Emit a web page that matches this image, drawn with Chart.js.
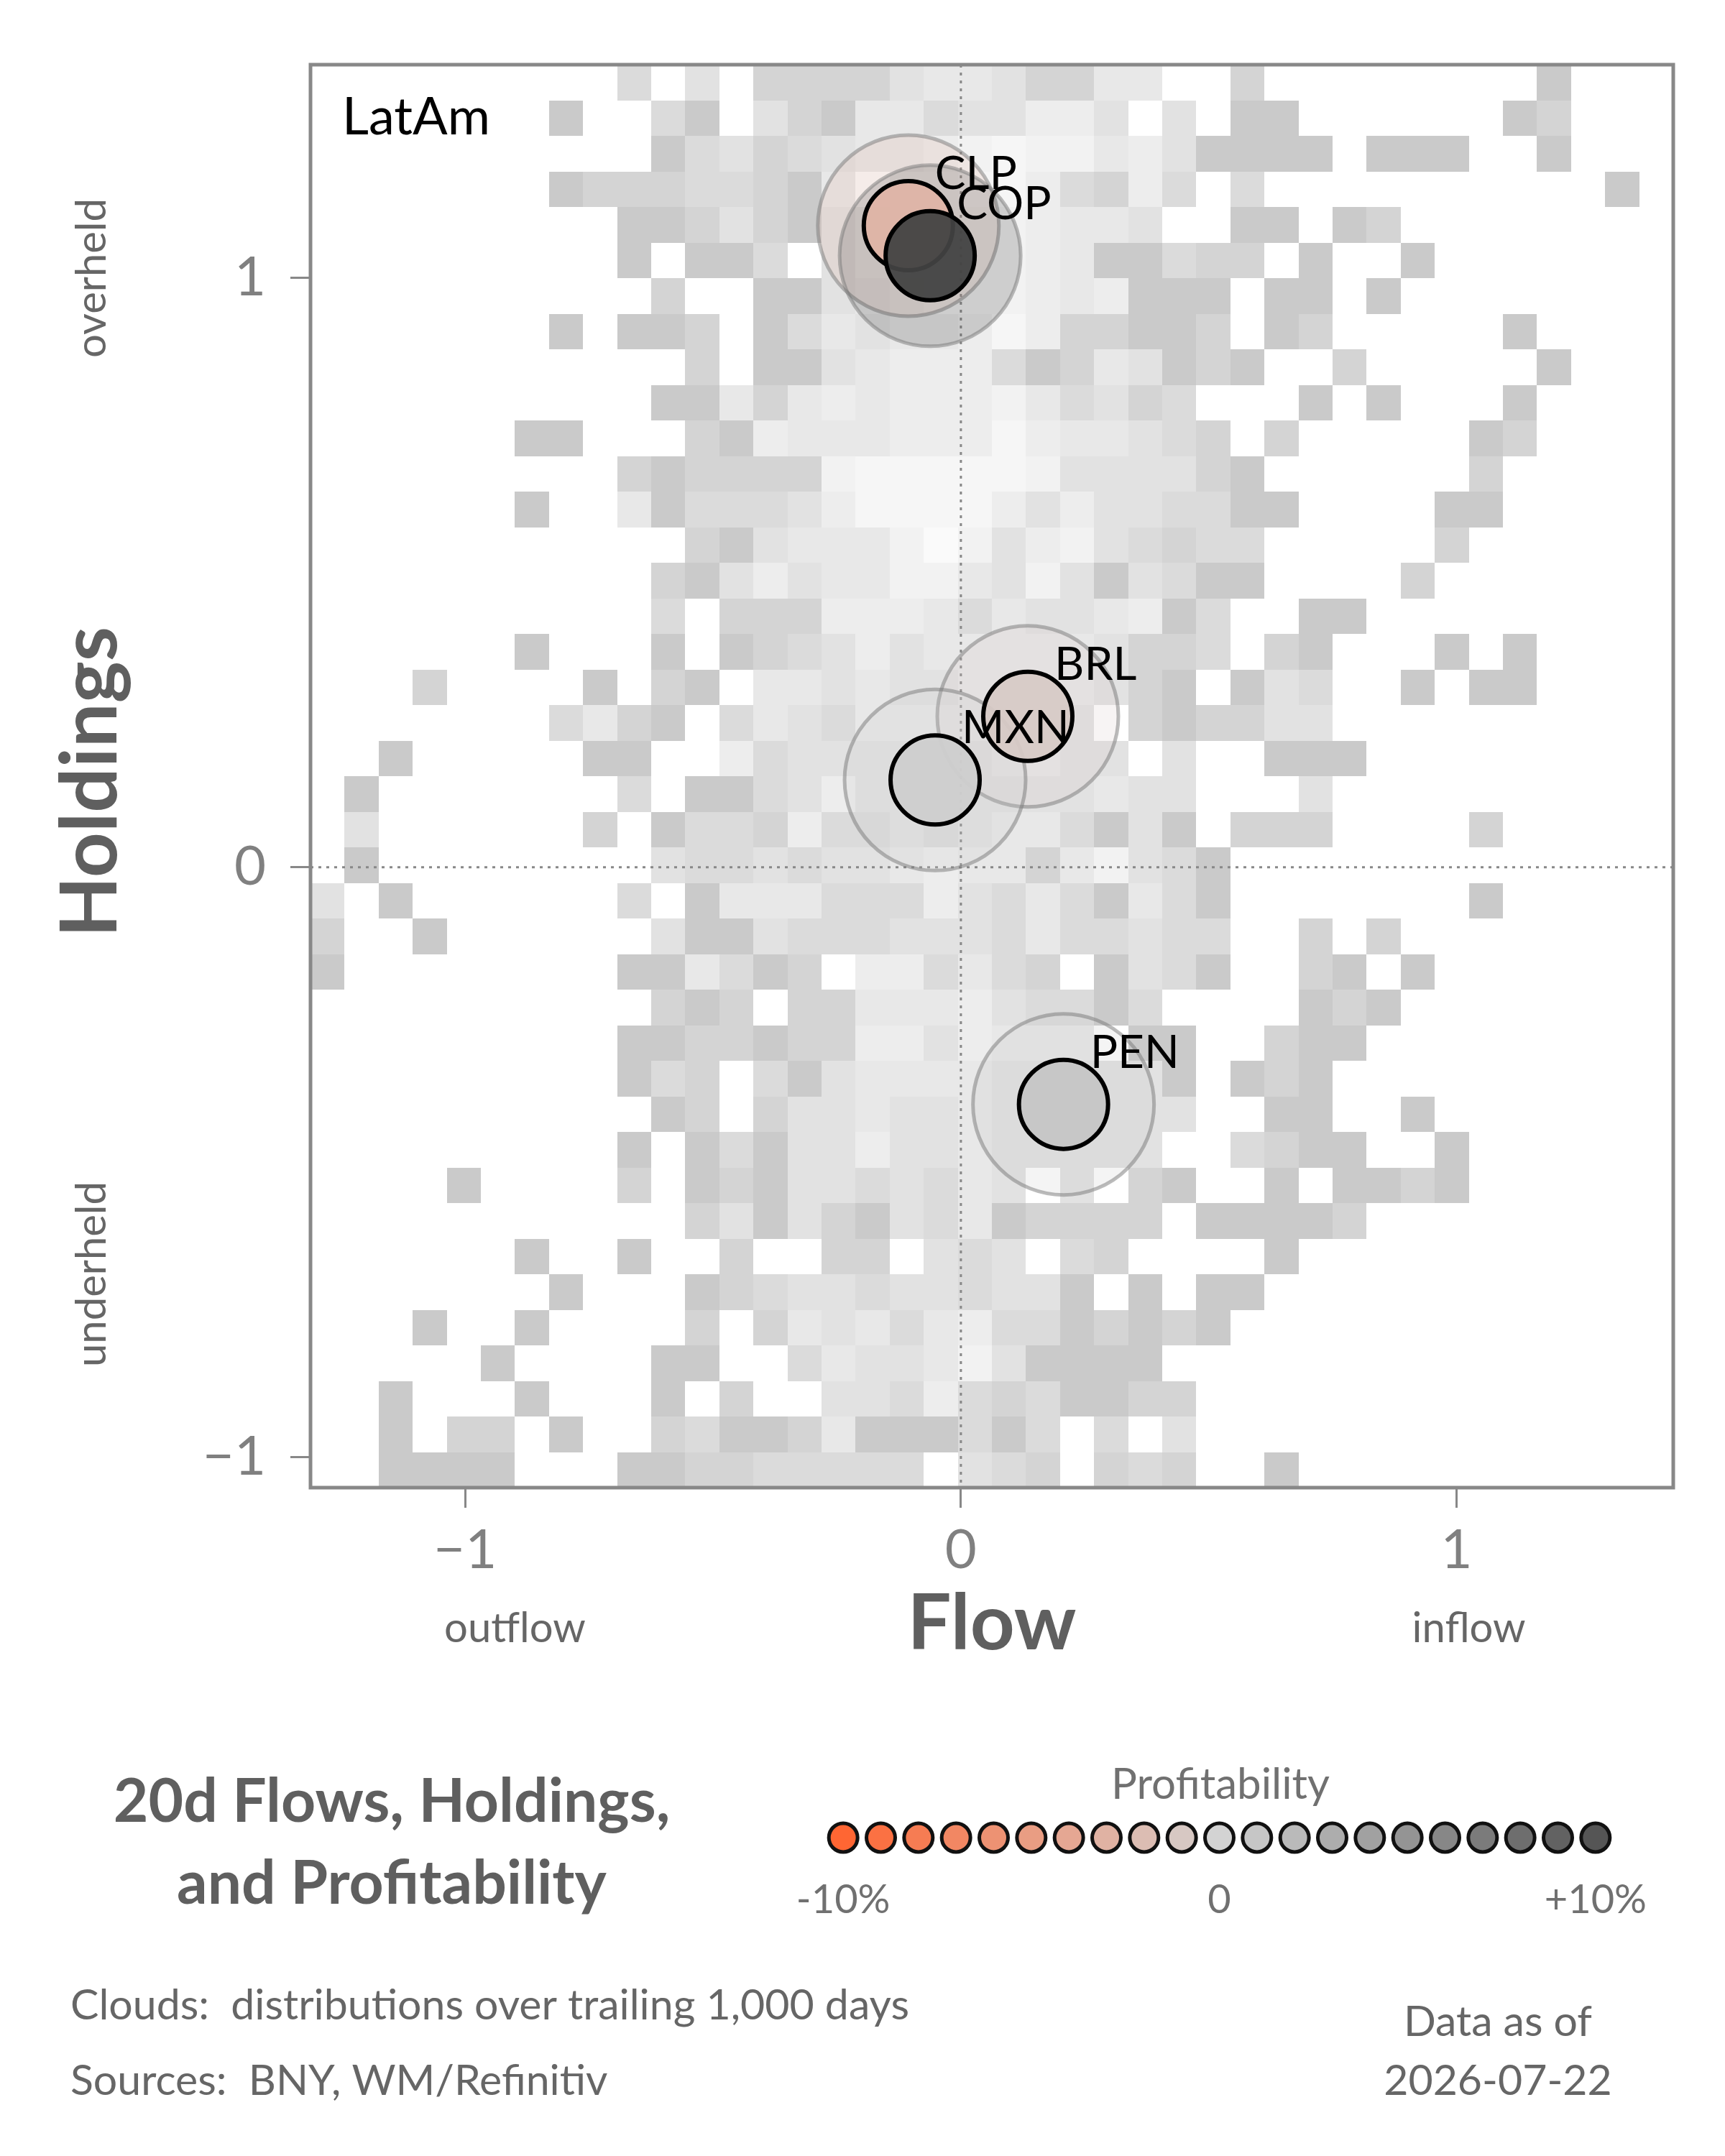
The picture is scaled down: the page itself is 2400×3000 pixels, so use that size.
<!DOCTYPE html>
<html>
<head>
<meta charset="utf-8">
<title>LatAm flows, holdings and profitability</title>
<script src="https://cdn.jsdelivr.net/npm/chart.js@4.4.1/dist/chart.umd.min.js"></script>
<style>
  body { margin: 0; background: #fff; }
  #wrap { position: relative; width: 2400px; height: 3000px; }
  canvas { position: absolute; }
</style>
</head>
<body>
<div id="wrap">
  <canvas id="cloudChart" width="2400" height="3000" style="left:0;top:0"></canvas>
  <canvas id="legendChart" width="1200" height="170" style="left:1100px;top:2522px"></canvas>
</div>
<script>
// LatAm currencies: 20d flow vs holdings, coloured by profitability
const currencies = ['CLP', 'COP', 'BRL', 'MXN', 'PEN'];
const flow = [-0.106, -0.062, 0.135, -0.052, 0.207];
const holdings = [1.088, 1.037, 0.256, 0.148, -0.402];
const profitability = [-2.8, 11.5, -0.8, 0.4, 1.0]; // percent

const flowTicks = [-1, 0, 1];
const holdingTicks = [-1, 0, 1];

// legend scale for profitability, percent
const legendSteps = [-10, -9, -8, -7, -6, -5, -4, -3, -2, -1, 0, 1, 2, 3, 4, 5, 6, 7, 8, 9, 10];
const legendTicks = [-10, 0, 10];

// trailing 1,000 day cloud: 40 x 40 bins, top row = highest holdings
// '.' = empty, 1 = few days ... 9 = most days
const cloudFlowRange = [-1.312, 1.437];
const cloudHoldRange = [-1.052, 1.361];
const cloudRows = [
  '.........3.4.222245542255..2........1...',
  '.......1..31.42155344664.4.11......12...',
  '..........13423455678775641111.111..1...',
  '.......1222332159778863263.3..........1.',
  '.........1124214677776554..11.12........',
  '.........1.113.4677776511322.1..1.......',
  '..........2..11456777656111.11.1........',
  '.......1.112.13545568622112.12.....1....',
  '...........2.114566631254121..2.....1...',
  '..........1152565666753423...1.1...1....',
  '......11...2165556668655432.2.....12....',
  '.........2122227888887444421......2.....',
  '......1..51333468888646443311....11.....',
  '...........21455579746743233.....2......',
  '..........214645577547414311....2.......',
  '..........3.222666535445613..11.........',
  '......1...1.123464555554223.21...1.1....',
  '...2....1.21.5545445555421.143..1.11....',
  '.......3521.35435555554.212244..........',
  '..1.....11..634444445544.4..111.........',
  '.1.......3.113464444444544...4..........',
  '.4......2.1332633434553141.222....2.....',
  '.1........43343445655257431.............',
  '4.1......3.1555333643531531.......1.....',
  '2..1......41143334443533433..2.2........',
  '1........115312.663532.1431..21.1.......',
  '..........212.22555643313....121........',
  '.........11221226646555.11..211.........',
  '.........132.3145555444441.121..........',
  '..........12.2445445444444..11..1.......',
  '.........1.13144644544444..3211..1......',
  '....1....2.1214434354.4.21..1.1121......',
  '...........24142143512222.11112.........',
  '......1..1..2..22.434.32....1...........',
  '.......1...123443443441.1.11............',
  '...1..1....2.25453563312121.............',
  '.....1....11..35445741111...............',
  '..1...1...1.2..44363231122..............',
  '..1.22.1..231125111313.3.4..............',
  '..1111...112233333.432.232..1...........'
];

const cloudShades = [202, 212, 219, 226, 232, 237, 242, 246, 250];

// diverging scale: orange (losses) -> light grey (flat) -> dark grey (gains)
function profitRGB(p) {
  const t = p / 10;
  const mid = [211, 211, 211];
  const end = t < 0 ? [255, 102, 51] : [85, 85, 85];
  const a = Math.abs(t);
  return mid.map((m, k) => Math.max(0, Math.min(255, Math.round(m + (end[k] - m) * a))));
}
function profitColour(p, alpha) {
  const c = profitRGB(p);
  return alpha === undefined ? `rgb(${c.join(',')})` : `rgba(${c.join(',')},${alpha})`;
}
function fmtAxis(v) {
  return v < 0 ? '\u2212' + Math.abs(v) : String(v);
}
// keep the plot box where it is: no extra room for edge labels
function noEdgePadding(s) {
  s.paddingTop = 0; s.paddingBottom = 0; s.paddingLeft = 0; s.paddingRight = 0;
}

const points = currencies.map((c, i) => ({ x: flow[i], y: holdings[i] }));

// heat cloud + dotted zero lines, under the bubbles
const cloudPlugin = {
  id: 'cloud',
  beforeDatasetsDraw(chart) {
    const { ctx, chartArea: a, scales: { x, y } } = chart;
    const nx = cloudRows[0].length, ny = cloudRows.length;
    const dx = (cloudFlowRange[1] - cloudFlowRange[0]) / nx;
    const dy = (cloudHoldRange[1] - cloudHoldRange[0]) / ny;
    ctx.save();
    ctx.beginPath();
    ctx.rect(a.left, a.top, a.width, a.height);
    ctx.clip();
    cloudRows.forEach((row, r) => {
      const yTop = Math.round(y.getPixelForValue(cloudHoldRange[1] - r * dy));
      const yBot = Math.round(y.getPixelForValue(cloudHoldRange[1] - (r + 1) * dy));
      [...row].forEach((ch, c) => {
        if (ch === '.') return;
        const x0 = Math.round(x.getPixelForValue(cloudFlowRange[0] + c * dx));
        const x1 = Math.round(x.getPixelForValue(cloudFlowRange[0] + (c + 1) * dx));
        const g = cloudShades[Number(ch) - 1];
        ctx.fillStyle = `rgb(${g},${g},${g})`;
        ctx.fillRect(x0, yTop, x1 - x0, yBot - yTop);
      });
    });
    const zx = x.getPixelForValue(0), zy = y.getPixelForValue(0);
    ctx.strokeStyle = '#888';
    ctx.lineWidth = 3;
    ctx.setLineDash([4, 7]);
    ctx.beginPath();
    ctx.moveTo(zx, a.top); ctx.lineTo(zx, a.bottom);
    ctx.moveTo(a.left, zy); ctx.lineTo(a.right, zy);
    ctx.stroke();
    ctx.restore();
  }
};

// currency codes next to the bubbles
const labelPlugin = {
  id: 'codes',
  afterDatasetsDraw(chart) {
    const { ctx } = chart;
    const meta = chart.getDatasetMeta(1);
    ctx.save();
    ctx.font = '64px Lato';
    ctx.fillStyle = '#000';
    ctx.textAlign = 'left';
    ctx.textBaseline = 'alphabetic';
    meta.data.forEach((el, i) => {
      ctx.fillText(currencies[i], el.x + 37, el.y - 51);
    });
    ctx.restore();
  }
};

// frame, axis words, title and notes
const textPlugin = {
  id: 'frameText',
  afterDraw(chart) {
    const { ctx, chartArea: a } = chart;
    const w = a.right - a.left, h = a.bottom - a.top;
    ctx.save();
    ctx.strokeStyle = '#888';
    ctx.lineWidth = 5;
    ctx.strokeRect(a.left, a.top, w, h);

    ctx.textBaseline = 'alphabetic';
    ctx.fillStyle = '#000';
    ctx.font = '72px Lato';
    ctx.textAlign = 'left';
    ctx.fillText('LatAm', a.left + 44, a.top + 97);

    ctx.fillStyle = '#5f5f5f';
    ctx.font = 'bold 108px Lato';
    ctx.textAlign = 'center';
    ctx.fillText('Flow', (a.left + a.right) / 2, 2295);

    ctx.fillStyle = '#666';
    ctx.font = '58px Lato';
    ctx.fillText('outflow', a.left + 0.15 * w, 2285);
    ctx.fillText('inflow', a.left + 0.85 * w, 2285);

    ctx.save();
    ctx.translate(162, (a.top + a.bottom) / 2 + 8);
    ctx.rotate(-Math.PI / 2);
    ctx.fillStyle = '#5f5f5f';
    ctx.font = 'bold 110px Lato';
    ctx.fillText('Holdings', 0, 0);
    ctx.restore();

    [['overheld', 0.15], ['underheld', 0.85]].forEach(([t, f]) => {
      ctx.save();
      ctx.translate(147, a.top + f * h);
      ctx.rotate(-Math.PI / 2);
      ctx.fillStyle = '#666';
      ctx.font = '58px Lato';
      ctx.fillText(t, 0, 0);
      ctx.restore();
    });

    ctx.fillStyle = '#5f5f5f';
    ctx.font = 'bold 84px Lato';
    ctx.fillText('20d Flows, Holdings,', 545, 2535);
    ctx.fillText('and Profitability', 545, 2649);

    ctx.fillStyle = '#707070';
    ctx.font = '60px Lato';
    ctx.fillText('Profitability', 1698, 2503);

    ctx.fillStyle = '#666';
    ctx.font = '59px Lato';
    ctx.textAlign = 'left';
    ctx.fillText('Clouds:  distributions over trailing 1,000 days', 98, 2810);
    ctx.fillText('Sources:  BNY, WM/Refinitiv', 98, 2915);
    ctx.textAlign = 'center';
    ctx.fillText('Data as of', 2084, 2833);
    ctx.fillText('2026-07-22', 2084, 2915);
    ctx.restore();
  }
};

new Chart(document.getElementById('cloudChart'), {
  type: 'scatter',
  data: {
    datasets: [
      {
        label: 'range',
        data: points,
        pointRadius: 126,
        borderWidth: 5,
        borderColor: 'rgba(120,120,120,0.5)',
        backgroundColor: profitability.map(p => profitColour(p, 0.2)),
        order: 2
      },
      {
        label: 'now',
        data: points,
        pointRadius: 62,
        borderWidth: 6,
        borderColor: '#000',
        backgroundColor: profitability.map(p => profitColour(p, 0.94)),
        order: 1
      }
    ]
  },
  options: {
    responsive: false,
    devicePixelRatio: 1,
    animation: false,
    events: [],
    layout: { autoPadding: false, padding: { left: 232, right: 72, top: 90, bottom: 730 } },
    plugins: { legend: { display: false }, tooltip: { enabled: false } },
    scales: {
      x: {
        type: 'linear',
        min: cloudFlowRange[0],
        max: cloudFlowRange[1],
        afterBuildTicks: s => { s.ticks = flowTicks.map(v => ({ value: v })); },
        afterFit: s => { s.height = 200; noEdgePadding(s); },
        ticks: { color: '#808080', font: { family: 'Lato', size: 76 }, padding: 14, callback: v => fmtAxis(v) },
        grid: { drawOnChartArea: false, drawTicks: true, tickLength: 28, tickWidth: 3, tickColor: '#888' },
        border: { display: false }
      },
      y: {
        type: 'linear',
        min: cloudHoldRange[0],
        max: cloudHoldRange[1],
        afterBuildTicks: s => { s.ticks = holdingTicks.map(v => ({ value: v })); },
        afterFit: s => { s.width = 200; noEdgePadding(s); },
        ticks: { color: '#808080', font: { family: 'Lato', size: 76 }, padding: 34, callback: v => fmtAxis(v) },
        grid: { drawOnChartArea: false, drawTicks: true, tickLength: 28, tickWidth: 3, tickColor: '#888' },
        border: { display: false }
      }
    }
  },
  plugins: [cloudPlugin, labelPlugin, textPlugin]
});

// Profitability legend
new Chart(document.getElementById('legendChart'), {
  type: 'scatter',
  data: {
    datasets: [{
      data: legendSteps.map(v => ({ x: v, y: 0 })),
      pointRadius: 20,
      borderWidth: 5,
      borderColor: '#111',
      backgroundColor: legendSteps.map(v => profitColour(v)),
      clip: false
    }]
  },
  options: {
    responsive: false,
    devicePixelRatio: 1,
    animation: false,
    events: [],
    layout: { autoPadding: false, padding: { left: 47, right: 54, top: 0, bottom: 0 } },
    plugins: { legend: { display: false }, tooltip: { enabled: false } },
    scales: {
      x: {
        type: 'linear',
        min: -10.5,
        max: 10.5,
        afterBuildTicks: s => { s.ticks = legendTicks.map(v => ({ value: v })); },
        afterFit: s => { s.height = 100; noEdgePadding(s); },
        grid: { display: false },
        border: { display: false },
        ticks: {
          color: '#707070',
          font: { family: 'Lato', size: 56 },
          padding: 10,
          callback: v => v === 0 ? '0' : (v > 0 ? '+' : '-') + Math.abs(v) + '%'
        }
      },
      y: { display: false, min: -1, max: 1, afterFit: noEdgePadding }
    }
  }
});
</script>
</body>
</html>
